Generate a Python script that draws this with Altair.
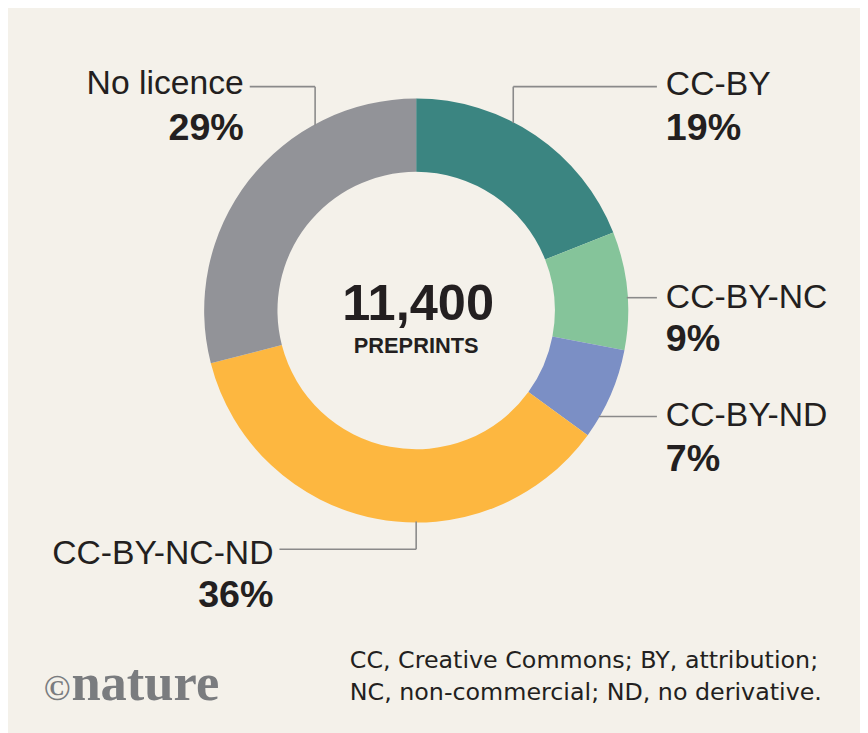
import math
import altair as alt
import pandas as pd

# ---- data ----
licences = ["CC-BY", "CC-BY-NC", "CC-BY-ND", "CC-BY-NC-ND", "No licence"]
shares = [19, 9, 7, 36, 29]
total_label = "11,400"
total_caption = "PREPRINTS"
footnote_lines = ["CC, Creative Commons; BY, attribution;",
                  "NC, non-commercial; ND, no derivative."]
logo_mark = "\u00a9"
logo_word = "nature"

# ---- styling / layout ----
colors = ["#3b8581", "#85c49a", "#7b8fc5", "#fdb740", "#929398"]
BG = "#f4f1ea"
INK = "#231f20"
LINE = "#8a8a8a"
W, H = 860, 725
CX, CY = 412, 302
R_OUT, R_IN = 214, 140
FONT = "Liberation Sans, Arial, sans-serif"

# label anchor: (x, leader y, side, name baseline offset, pct baseline offset)
layout = {
    "CC-BY":       (664, 76, "left", 8, 54),
    "CC-BY-NC":    (664, 289, "left", 10, 54),
    "CC-BY-ND":    (664, 409, "left", 10, 55),
    "CC-BY-NC-ND": (268, 543, "right", 15, 58),
    "No licence":  (238, 76, "right", 7, 54),
}


def ring_y(x, top=True):
    d = math.sqrt(max(R_OUT ** 2 - (x - CX) ** 2, 0))
    return CY - d if top else CY + d


def ring_x(y):
    return CX + math.sqrt(max(R_OUT ** 2 - (y - CY) ** 2, 0))


# leader line segments (annotation geometry)
segs = [
    (244, 76, 310, 76), (310, 76, 310, ring_y(310) + 1),
    (510, 76, 655, 76), (510, 76, 510, ring_y(510) + 1),
    (ring_x(289) - 1, 289, 655, 289),
    (ring_x(409) - 1, 409, 655, 409),
    (274, 543, CX, 543), (CX, 543, CX, ring_y(CX, top=False) - 1),
]
seg_df = pd.DataFrame(segs, columns=["x", "y", "x2", "y2"])

df = pd.DataFrame({"licence": licences, "share": shares,
                   "order": list(range(len(licences)))})

ring = alt.Chart(df).mark_arc(innerRadius=R_IN, outerRadius=R_OUT).encode(
    theta=alt.Theta("share:Q", stack=True),
    order=alt.Order("order:Q"),
    color=alt.Color("licence:N", scale=alt.Scale(domain=licences, range=colors), legend=None),
    x=alt.value(CX),
    y=alt.value(CY),
)

leaders = alt.Chart(seg_df).mark_rule(color=LINE, strokeWidth=1.6).encode(
    x=alt.X("x:Q", scale=None), y=alt.Y("y:Q", scale=None),
    x2="x2:Q", y2="y2:Q",
)

lab_rows = []
for name, val in zip(licences, shares):
    lx, ly, side, dn, dp = layout[name]
    lab_rows.append({"name": name, "pct": f"{val}%", "x": lx,
                     "yn": ly + dn, "yp": ly + dp, "side": side})
lab_df = pd.DataFrame(lab_rows)

label_layers = []
for side in ["left", "right"]:
    base = alt.Chart(lab_df).transform_filter(alt.datum.side == side)
    label_layers.append(base.mark_text(align=side, baseline="alphabetic", font=FONT,
                                       fontSize=34, color=INK).encode(
        x=alt.X("x:Q", scale=None), y=alt.Y("yn:Q", scale=None), text="name:N"))
    label_layers.append(base.mark_text(align=side, baseline="alphabetic", font=FONT,
                                       fontSize=38, fontWeight="bold", color=INK).encode(
        x=alt.X("x:Q", scale=None), y=alt.Y("yp:Q", scale=None), text="pct:N"))

centre_df = pd.DataFrame({"t": [total_label]})
centre_num = alt.Chart(centre_df).mark_text(
    align="center", baseline="alphabetic", font=FONT,
    fontSize=51, fontWeight="bold", color=INK,
).encode(x=alt.value(CX + 2), y=alt.value(312), text="t:N")

cap_df = pd.DataFrame({"t": [total_caption]})
centre_cap = alt.Chart(cap_df).mark_text(
    align="center", baseline="alphabetic", font=FONT,
    fontSize=22, fontWeight="bold", color=INK,
).encode(x=alt.value(CX), y=alt.value(345), text="t:N")

foot_df = pd.DataFrame({"t": footnote_lines, "y": [663, 695]})
foot = alt.Chart(foot_df).mark_text(
    align="left", baseline="alphabetic", font="DejaVu Sans, sans-serif",
    fontSize=24, color=INK,
).encode(x=alt.value(345), y=alt.Y("y:Q", scale=None), text="t:N")

logo_c = alt.Chart(pd.DataFrame({"t": [logo_mark]})).mark_text(
    align="left", baseline="alphabetic", font="Liberation Serif, serif",
    fontSize=36, fontWeight="bold", color="#7a7c7f",
).encode(x=alt.value(36), y=alt.value(695), text="t:N")

logo_w = alt.Chart(pd.DataFrame({"t": [logo_word]})).mark_text(
    align="left", baseline="alphabetic", font="Liberation Serif, serif",
    fontSize=53, fontWeight="bold", color="#7a7c7f",
).encode(x=alt.value(64), y=alt.value(695), text="t:N")

chart = alt.layer(ring, leaders, *label_layers, centre_num, centre_cap, foot, logo_c, logo_w).properties(
    width=W, height=H,
    autosize=alt.AutoSizeParams(type="none"),
    padding=0,
    background=BG,
).configure_view(stroke=None)

chart.save("out.html", embed_options={"renderer": "svg", "actions": False})
